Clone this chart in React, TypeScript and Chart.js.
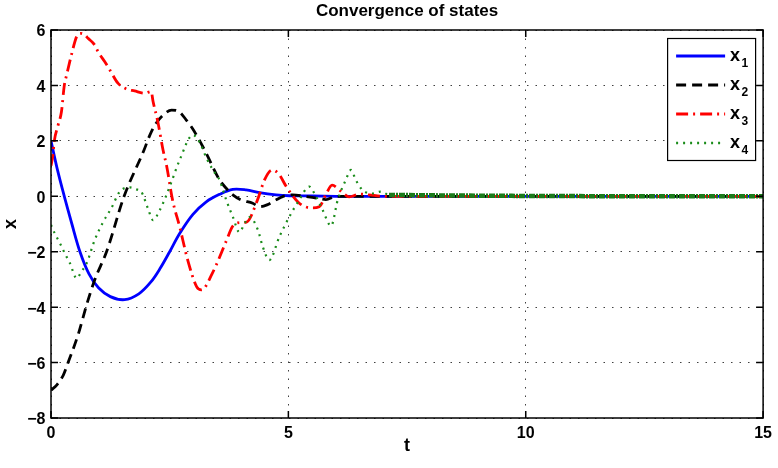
import { useEffect, useRef } from "react";
import { Chart, registerables } from "chart.js";

Chart.register(...registerables);

// Simulation time stamps and state trajectories
const tX1 = [0, 0.13, 0.28, 0.44, 0.61, 0.8, 1.0, 1.25, 1.55, 1.85, 2.1, 2.3, 2.5, 2.71, 2.99, 3.27, 3.55, 3.83, 4.11, 4.39, 4.74, 5.02, 5.5, 6.0, 7.0, 15];
const x1 = [2.0, 1.0, 0.0, -1.0, -2.0, -2.8, -3.3, -3.62, -3.73, -3.52, -3.1, -2.6, -2.0, -1.34, -0.65, -0.2, 0.07, 0.25, 0.23, 0.13, 0.05, 0.02, 0.01, 0.0, 0.0, 0.0];

const tX2 = [0, 0.12, 0.26, 0.36, 0.57, 0.75, 0.92, 1.17, 1.54, 1.96, 2.08, 2.2, 2.36, 2.54, 2.7, 2.85, 2.96, 3.1, 3.27, 3.55, 3.69, 3.83, 4.0, 4.25, 4.4, 4.55, 4.74, 4.88, 5.09, 5.37, 5.62, 5.79, 6.0, 6.5, 7.0, 15];
const x2 = [-7.0, -6.81, -6.45, -6.0, -5.0, -3.92, -3.02, -2.0, 0.0, 1.67, 2.2, 2.6, 2.93, 3.11, 3.05, 2.75, 2.5, 2.1, 1.55, 0.59, 0.29, 0.05, -0.13, -0.25, -0.38, -0.31, -0.13, -0.01, 0.05, -0.01, -0.07, -0.12, 0.0, 0.0, 0.0, 0.0];

const tX3 = [0, 0.04, 0.07, 0.15, 0.22, 0.28, 0.33, 0.43, 0.54, 0.62, 0.71, 0.78, 0.92, 0.99, 1.13, 1.24, 1.41, 1.59, 1.76, 1.97, 2.11, 2.15, 2.25, 2.36, 2.44, 2.56, 2.71, 2.88, 3.07, 3.17, 3.4, 3.7, 3.82, 3.97, 4.12, 4.35, 4.5, 4.66, 4.8, 4.96, 5.23, 5.5, 5.65, 5.8, 5.92, 6.13, 6.28, 6.5, 6.7, 7.0, 15];
const x3 = [1.1, 1.5, 2.0, 2.57, 3.05, 4.0, 4.38, 5.1, 5.76, 5.88, 5.82, 5.7, 5.46, 5.22, 4.86, 4.56, 4.08, 3.87, 3.8, 3.72, 3.78, 3.42, 2.69, 1.67, 1.06, -0.13, -1.1, -2.3, -3.27, -3.38, -2.77, -1.58, -1.1, -0.95, -0.93, -0.13, 0.6, 0.95, 0.8, 0.34, -0.25, -0.42, -0.38, 0.1, 0.4, 0.15, -0.02, 0.08, 0.05, 0.0, 0.0];

const tX4 = [0, 0.08, 0.19, 0.29, 0.4, 0.54, 0.64, 0.75, 0.92, 1.1, 1.27, 1.45, 1.66, 1.8, 1.9, 2.04, 2.15, 2.29, 2.39, 2.54, 2.71, 2.99, 3.13, 3.27, 3.41, 3.55, 3.69, 3.83, 3.97, 4.08, 4.18, 4.36, 4.46, 4.6, 4.81, 5.02, 5.23, 5.44, 5.55, 5.72, 5.9, 6.04, 6.21, 6.32, 6.42, 6.56, 6.77, 6.95, 7.12, 15];
const x4 = [-1.03, -1.34, -1.7, -2.06, -2.42, -2.96, -2.72, -2.42, -1.58, -0.92, -0.43, 0.17, 0.32, 0.25, 0.17, -0.43, -0.86, -0.5, -0.13, 0.53, 1.31, 2.21, 1.95, 1.4, 0.95, 0.59, -0.13, -0.74, -1.3, -0.97, -0.75, -1.22, -1.82, -2.3, -1.46, -0.74, -0.13, 0.35, 0.1, -0.49, -1.07, -0.13, 0.59, 0.95, 0.59, 0.23, 0.1, 0.17, 0.05, 0.0];

const stateSubscripts = ["1", "2", "3", "4"];
const xTickValues = [0, 5, 10, 15];
const yTickValues = [-8, -6, -4, -2, 0, 2, 4, 6];

const FONT = "'Liberation Sans', Arial, Helvetica, sans-serif";

const toPoints = (t: number[], v: number[]) => t.map((x, i) => ({ x, y: v[i] }));

// MATLAB-style box, inward ticks and legend with subscripts
const axesBoxPlugin = {
  id: "axesBox",
  afterDatasetsDraw(chart: any) {
    const { ctx, chartArea: a, scales } = chart;
    ctx.save();
    ctx.setLineDash([]);
    ctx.strokeStyle = "#000";
    ctx.lineWidth = 1.5;
    ctx.strokeRect(a.left, a.top, a.right - a.left, a.bottom - a.top);

    const tl = 7;
    ctx.beginPath();
    for (const v of xTickValues) {
      const px = scales.x.getPixelForValue(v);
      ctx.moveTo(px, a.bottom);
      ctx.lineTo(px, a.bottom - tl);
      ctx.moveTo(px, a.top);
      ctx.lineTo(px, a.top + tl);
    }
    for (const v of yTickValues) {
      const py = scales.y.getPixelForValue(v);
      ctx.moveTo(a.left, py);
      ctx.lineTo(a.left + tl, py);
      ctx.moveTo(a.right, py);
      ctx.lineTo(a.right - tl, py);
    }
    ctx.stroke();

    // legend
    const w = 88;
    const h = 122;
    const lx = a.right - 8 - w;
    const ly = a.top + 8;
    ctx.fillStyle = "#fff";
    ctx.fillRect(lx, ly, w, h);
    ctx.lineWidth = 1.2;
    ctx.strokeStyle = "#000";
    ctx.strokeRect(lx + 0.5, ly + 0.5, w, h);

    chart.data.datasets.forEach((ds: any, i: number) => {
      const y = ly + 18 + i * 29;
      ctx.save();
      ctx.strokeStyle = ds.borderColor;
      ctx.lineWidth = ds.legendWidth;
      ctx.setLineDash(ds.borderDash || []);
      ctx.beginPath();
      ctx.moveTo(lx + 9, y);
      ctx.lineTo(lx + 58, y);
      ctx.stroke();
      ctx.restore();

      ctx.fillStyle = "#000";
      ctx.textAlign = "left";
      ctx.textBaseline = "alphabetic";
      ctx.font = `bold 18px ${FONT}`;
      ctx.fillText("x", lx + 63, y + 5);
      ctx.font = `bold 12px ${FONT}`;
      ctx.fillText(stateSubscripts[i], lx + 74.5, y + 11);
    });
    ctx.restore();
  },
};

export default function App() {
  const canvasRef = useRef<HTMLCanvasElement | null>(null);

  useEffect(() => {
    if (!canvasRef.current) return;
    const tailFrom = 7.05;
    const chart = new Chart(canvasRef.current, {
      type: "line",
      data: {
        datasets: [
          {
            label: "x1",
            data: toPoints(tX1, x1),
            borderColor: "#0000ff",
            borderWidth: 2.8,
            legendWidth: 2.8,
            borderDash: [],
            pointRadius: 0,
            tension: 0.35,
            order: 4,
          } as any,
          {
            label: "x2",
            data: toPoints(tX2, x2),
            borderColor: "#000000",
            borderWidth: 2.8,
            legendWidth: 2.8,
            borderDash: [10, 6],
            pointRadius: 0,
            cubicInterpolationMode: "monotone",
            order: 3,
          } as any,
          {
            label: "x3",
            data: toPoints(tX3, x3),
            borderColor: "#ff0000",
            borderWidth: 2.8,
            legendWidth: 2.8,
            borderDash: [12, 5, 2, 5],
            pointRadius: 0,
            cubicInterpolationMode: "monotone",
            order: 2,
          } as any,
          {
            label: "x4",
            data: toPoints(tX4, x4),
            borderColor: "#1a8c1a",
            borderWidth: 2.2,
            legendWidth: 2.6,
            borderDash: [2, 5],
            pointRadius: 0,
            cubicInterpolationMode: "monotone",
            order: 1,
            segment: {
              borderWidth: (c: any) => (c.p0.parsed.x >= tailFrom ? 4.5 : undefined),
              borderDash: (c: any) => (c.p0.parsed.x >= tailFrom ? [6, 1, 2, 1] : undefined),
              borderColor: (c: any) => (c.p0.parsed.x >= tailFrom ? "#1a7a1a" : undefined),
            },
          } as any,
        ],
      },
      options: {
        responsive: false,
        animation: false,
        layout: { padding: { left: 0, right: 13, top: 0, bottom: 0 } },
        plugins: {
          legend: { display: false },
          tooltip: { enabled: false },
          title: {
            display: true,
            text: "Convergence of states",
            color: "#000",
            fullSize: false,
            font: { family: FONT, size: 17, weight: "bold" },
            padding: { top: 1.5, bottom: 8.1 },
          },
        },
        scales: {
          x: {
            type: "linear",
            min: 0,
            max: 15,
            afterFit: (s: any) => {
              s.height = 50;
            },
            afterBuildTicks: (s: any) => {
              s.ticks = xTickValues.map((v) => ({ value: v }));
            },
            ticks: {
              color: "#000",
              padding: 6,
              font: { family: FONT, size: 16, weight: "bold" },
              callback: (v: any) => String(v),
            },
            grid: {
              color: "rgba(0,0,0,0.75)",
              lineWidth: 1,
              drawTicks: false,
            },
            border: { display: false, dash: [1.5, 7] },
            title: {
              display: true,
              text: "t",
              color: "#000",
              font: { family: FONT, size: 18, weight: "bold" },
              padding: { top: 0, bottom: 11 },
            },
          },
          y: {
            type: "linear",
            min: -8,
            max: 6,
            afterFit: (s: any) => {
              s.width = 51;
            },
            afterBuildTicks: (s: any) => {
              s.ticks = yTickValues.map((v) => ({ value: v }));
            },
            ticks: {
              color: "#000",
              padding: 5.5,
              labelOffset: 2,
              font: { family: FONT, size: 16, weight: "bold" },
              callback: (v: any) => String(v).replace("-", "\u2212"),
            },
            grid: {
              color: "rgba(0,0,0,0.75)",
              lineWidth: 1,
              drawTicks: false,
            },
            border: { display: false, dash: [1.5, 7] },
            title: {
              display: true,
              text: "x",
              color: "#000",
              font: { family: FONT, size: 18, weight: "bold" },
              padding: { top: 0, bottom: 0 },
            },
          },
        },
      } as any,
      plugins: [axesBoxPlugin],
    });
    return () => chart.destroy();
  }, []);

  return (
    <div style={{ position: "absolute", left: 0, top: 0, width: 778, height: 468, background: "#fff" }}>
      <canvas ref={canvasRef} width={778} height={468} style={{ display: "block" }} />
    </div>
  );
}
